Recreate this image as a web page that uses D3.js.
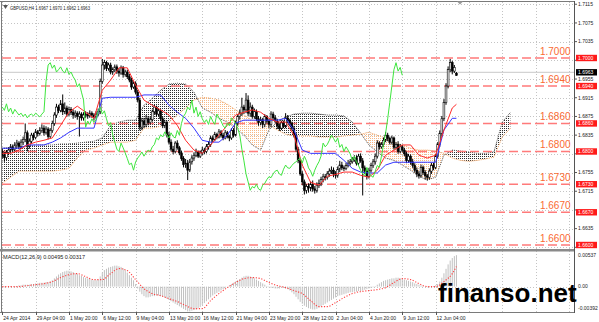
<!DOCTYPE html>
<html><head><meta charset="utf-8">
<script src="https://cdn.jsdelivr.net/npm/d3@7"></script>
<style>html,body{margin:0;padding:0;background:#fff;overflow:hidden}</style>
</head><body>
<svg id="c" width="599" height="322"></svg>
<script>
// ---------------- DATA ----------------
const symbolTitle = "GBPUSD,H4";
const lastOHLC = [1.6967, 1.6970, 1.6962, 1.6963];
const bidPrice = 1.6963;

const open = [1.6800,1.6792,1.6787,1.6798,1.6803,1.6810,1.6804,1.6814,1.6818,1.6811,
1.6820,1.6826,1.6840,1.6812,1.6822,1.6835,1.6830,1.6842,1.6838,1.6845,
1.6850,1.6840,1.6848,1.6832,1.6845,1.6860,1.6878,1.6895,1.6888,1.6902,
1.6885,1.6893,1.6880,1.6890,1.6884,1.6878,1.6882,1.6875,1.6880,1.6872,
1.6878,1.6880,1.6876,1.6882,1.6878,1.6874,1.6880,1.6885,1.6950,1.6985,
1.6990,1.6978,1.6985,1.6970,1.6975,1.6981,1.6972,1.6968,1.6979,1.6965,
1.6970,1.6960,1.6953,1.6938,1.6945,1.6927,1.6910,1.6852,1.6865,1.6858,
1.6870,1.6862,1.6868,1.6885,1.6895,1.6880,1.6887,1.6870,1.6855,1.6862,
1.6835,1.6820,1.6805,1.6800,1.6818,1.6808,1.6797,1.6785,1.6772,1.6775,
1.6760,1.6778,1.6786,1.6792,1.6799,1.6790,1.6797,1.6803,1.6800,1.6810,
1.6815,1.6829,1.6825,1.6836,1.6831,1.6842,1.6835,1.6829,1.6840,1.6832,
1.6829,1.6845,1.6835,1.6860,1.6875,1.6882,1.6895,1.6889,1.6910,1.6882,
1.6895,1.6875,1.6885,1.6870,1.6862,1.6868,1.6858,1.6875,1.6865,1.6858,
1.6880,1.6872,1.6865,1.6855,1.6850,1.6861,1.6855,1.6872,1.6867,1.6860,
1.6850,1.6835,1.6805,1.6780,1.6752,1.6735,1.6717,1.6725,1.6722,1.6730,
1.6720,1.6717,1.6728,1.6732,1.6740,1.6746,1.6744,1.6752,1.6758,1.6760,
1.6752,1.6749,1.6762,1.6771,1.6765,1.6764,1.6770,1.6775,1.6778,1.6782,
1.6786,1.6775,1.6790,1.6780,1.6765,1.6758,1.6747,1.6760,1.6770,1.6778,
1.6790,1.6818,1.6810,1.6815,1.6824,1.6835,1.6828,1.6820,1.6829,1.6809,
1.6815,1.6800,1.6810,1.6803,1.6795,1.6781,1.6790,1.6778,1.6770,1.6760,
1.6752,1.6748,1.6766,1.6755,1.6748,1.6745,1.6758,1.6770,1.6766,1.6790,
1.6815,1.6839,1.6870,1.6905,1.6940,1.6975,1.6990,1.6972,1.6967];

const close = [1.6792,1.6787,1.6798,1.6803,1.6810,1.6804,1.6814,1.6818,1.6811,1.6820,
1.6826,1.6840,1.6812,1.6822,1.6835,1.6830,1.6842,1.6838,1.6845,1.6850,
1.6840,1.6848,1.6832,1.6845,1.6860,1.6878,1.6895,1.6888,1.6902,1.6885,
1.6893,1.6880,1.6890,1.6884,1.6878,1.6882,1.6875,1.6880,1.6872,1.6878,
1.6880,1.6876,1.6882,1.6878,1.6874,1.6880,1.6885,1.6950,1.6985,1.6990,
1.6978,1.6985,1.6970,1.6975,1.6981,1.6972,1.6968,1.6979,1.6965,1.6970,
1.6960,1.6953,1.6938,1.6945,1.6927,1.6910,1.6852,1.6865,1.6858,1.6870,
1.6862,1.6868,1.6885,1.6895,1.6880,1.6887,1.6870,1.6855,1.6862,1.6835,
1.6820,1.6805,1.6800,1.6818,1.6808,1.6797,1.6785,1.6772,1.6775,1.6760,
1.6778,1.6786,1.6792,1.6799,1.6790,1.6797,1.6803,1.6800,1.6810,1.6815,
1.6829,1.6825,1.6836,1.6831,1.6842,1.6835,1.6829,1.6840,1.6832,1.6829,
1.6845,1.6835,1.6860,1.6875,1.6882,1.6895,1.6889,1.6910,1.6882,1.6895,
1.6875,1.6885,1.6870,1.6862,1.6868,1.6858,1.6875,1.6865,1.6858,1.6880,
1.6872,1.6865,1.6855,1.6850,1.6861,1.6855,1.6872,1.6867,1.6860,1.6850,
1.6835,1.6805,1.6780,1.6752,1.6735,1.6717,1.6725,1.6722,1.6730,1.6720,
1.6717,1.6728,1.6732,1.6740,1.6746,1.6744,1.6752,1.6758,1.6760,1.6752,
1.6749,1.6762,1.6771,1.6765,1.6764,1.6770,1.6775,1.6778,1.6782,1.6786,
1.6775,1.6790,1.6780,1.6765,1.6758,1.6747,1.6760,1.6770,1.6778,1.6790,
1.6818,1.6810,1.6815,1.6824,1.6835,1.6828,1.6820,1.6829,1.6809,1.6815,
1.6800,1.6810,1.6803,1.6795,1.6781,1.6790,1.6778,1.6770,1.6760,1.6752,
1.6748,1.6766,1.6755,1.6748,1.6745,1.6758,1.6770,1.6766,1.6790,1.6815,
1.6839,1.6870,1.6905,1.6940,1.6975,1.6990,1.6972,1.6980,1.6963];

const high = [1.6806,1.6798,1.6803,1.6809,1.6816,1.6815,1.6820,1.6825,1.6822,1.6826,
1.6832,1.6860,1.6845,1.6828,1.6840,1.6840,1.6848,1.6846,1.6852,1.6858,
1.6856,1.6854,1.6852,1.6850,1.6866,1.6884,1.6902,1.6900,1.6910,1.6922,
1.6905,1.6898,1.6896,1.6895,1.6890,1.6888,1.6886,1.6886,1.6884,1.6884,
1.6886,1.6884,1.6888,1.6886,1.6882,1.6886,1.6892,1.6956,1.6998,1.6996,
1.6994,1.6990,1.6990,1.6980,1.6986,1.6986,1.6978,1.6984,1.6983,1.6975,
1.6975,1.6966,1.6958,1.6950,1.6950,1.6932,1.6915,1.6872,1.6872,1.6878,
1.6876,1.6874,1.6890,1.6900,1.6898,1.6892,1.6890,1.6875,1.6868,1.6866,
1.6842,1.6826,1.6812,1.6822,1.6824,1.6812,1.6802,1.6790,1.6784,1.6782,
1.6784,1.6792,1.6798,1.6806,1.6802,1.6802,1.6810,1.6808,1.6816,1.6822,
1.6834,1.6834,1.6842,1.6840,1.6848,1.6846,1.6840,1.6846,1.6844,1.6836,
1.6850,1.6850,1.6866,1.6880,1.6890,1.6915,1.6900,1.6925,1.6920,1.6905,
1.6900,1.6892,1.6890,1.6876,1.6874,1.6872,1.6880,1.6878,1.6870,1.6886,
1.6885,1.6878,1.6870,1.6860,1.6866,1.6866,1.6882,1.6878,1.6870,1.6864,
1.6855,1.6840,1.6810,1.6785,1.6758,1.6740,1.6730,1.6732,1.6736,1.6738,
1.6726,1.6734,1.6740,1.6746,1.6752,1.6752,1.6758,1.6764,1.6768,1.6766,
1.6758,1.6768,1.6780,1.6778,1.6770,1.6776,1.6782,1.6784,1.6788,1.6792,
1.6792,1.6795,1.6796,1.6786,1.6770,1.6764,1.6765,1.6776,1.6784,1.6796,
1.6824,1.6822,1.6820,1.6830,1.6842,1.6840,1.6832,1.6834,1.6832,1.6820,
1.6822,1.6816,1.6814,1.6808,1.6800,1.6795,1.6794,1.6784,1.6775,1.6766,
1.6758,1.6772,1.6770,1.6760,1.6752,1.6764,1.6776,1.6776,1.6795,1.6820,
1.6845,1.6876,1.6912,1.6946,1.6982,1.6998,1.6994,1.6985,1.6970];

const low = [1.6785,1.6778,1.6782,1.6792,1.6798,1.6798,1.6800,1.6808,1.6805,1.6806,
1.6814,1.6820,1.6800,1.6806,1.6816,1.6824,1.6826,1.6832,1.6834,1.6840,
1.6834,1.6836,1.6826,1.6828,1.6840,1.6855,1.6872,1.6882,1.6884,1.6878,
1.6880,1.6874,1.6876,1.6878,1.6870,1.6872,1.6868,1.6832,1.6866,1.6866,
1.6872,1.6870,1.6872,1.6872,1.6866,1.6870,1.6876,1.6880,1.6945,1.6975,
1.6972,1.6973,1.6965,1.6964,1.6970,1.6966,1.6960,1.6964,1.6958,1.6960,
1.6955,1.6948,1.6932,1.6934,1.6922,1.6905,1.6845,1.6846,1.6850,1.6852,
1.6856,1.6858,1.6864,1.6880,1.6875,1.6876,1.6865,1.6850,1.6850,1.6830,
1.6815,1.6800,1.6794,1.6796,1.6804,1.6792,1.6780,1.6766,1.6765,1.6739,
1.6756,1.6772,1.6780,1.6788,1.6786,1.6786,1.6792,1.6794,1.6796,1.6804,
1.6810,1.6820,1.6822,1.6826,1.6828,1.6830,1.6824,1.6826,1.6828,1.6822,
1.6825,1.6830,1.6832,1.6855,1.6868,1.6876,1.6880,1.6882,1.6876,1.6874,
1.6870,1.6870,1.6865,1.6855,1.6856,1.6850,1.6852,1.6860,1.6850,1.6852,
1.6866,1.6860,1.6848,1.6844,1.6846,1.6850,1.6850,1.6860,1.6854,1.6845,
1.6830,1.6800,1.6775,1.6748,1.6728,1.6708,1.6710,1.6712,1.6715,1.6714,
1.6710,1.6712,1.6722,1.6726,1.6734,1.6738,1.6740,1.6746,1.6752,1.6745,
1.6742,1.6744,1.6756,1.6760,1.6758,1.6760,1.6766,1.6770,1.6774,1.6778,
1.6770,1.6770,1.6776,1.6706,1.6752,1.6740,1.6742,1.6755,1.6765,1.6772,
1.6785,1.6804,1.6806,1.6810,1.6820,1.6822,1.6815,1.6815,1.6804,1.6804,
1.6795,1.6796,1.6798,1.6790,1.6775,1.6776,1.6772,1.6765,1.6755,1.6745,
1.6742,1.6744,1.6750,1.6740,1.6738,1.6740,1.6752,1.6760,1.6762,1.6785,
1.6810,1.6832,1.6865,1.6900,1.6935,1.6970,1.6965,1.6968,1.6962];

// Ichimoku lines sampled every 4 bars (+ last bar)
const lineBars = d3.range(0, 217, 4).concat([218]);
const tenkan = [1.6796,1.6796,1.6803,1.6814,1.6820,1.6824,1.6829,1.6856,1.6884,1.6897,
1.6884,1.6871,1.6931,1.6953,1.6979,1.6979,1.6942,1.6910,1.6899,1.6889,
1.6878,1.6856,1.6824,1.6803,1.6796,1.6814,1.6835,1.6856,1.6878,1.6884,
1.6889,1.6884,1.6871,1.6863,1.6863,1.6835,1.6771,1.6734,1.6728,1.6747,
1.6751,1.6756,1.6756,1.6749,1.6745,1.6760,1.6792,1.6803,1.6814,1.6814,
1.6792,1.6786,1.6792,1.6846,1.6893,1.6901];
const kijun = [1.6807,1.6807,1.6807,1.6814,1.6814,1.6814,1.6820,1.6829,1.6841,1.6850,
1.6850,1.6850,1.6914,1.6916,1.6916,1.6916,1.6916,1.6921,1.6921,1.6921,
1.6899,1.6884,1.6871,1.6850,1.6824,1.6820,1.6820,1.6835,1.6861,1.6867,
1.6867,1.6867,1.6867,1.6867,1.6871,1.6846,1.6803,1.6796,1.6796,1.6796,
1.6796,1.6781,1.6764,1.6756,1.6754,1.6754,1.6771,1.6777,1.6777,1.6777,
1.6777,1.6777,1.6777,1.6846,1.6871,1.6871];

// Cloud (Senkou spans, already shifted 26 bars forward) sampled every 4 bars
const cloudBars = d3.range(0, 245, 4);
const spanA = [1.6732,1.6745,1.6758,1.6758,1.6758,1.6758,1.6758,1.6760,1.6764,1.6786,
1.6803,1.6807,1.6814,1.6820,1.6820,1.6820,1.6824,1.6850,1.6850,1.6854,
1.6863,1.6878,1.6893,1.6910,1.6916,1.6914,1.6910,1.6901,1.6889,1.6878,
1.6867,1.6863,1.6856,1.6846,1.6837,1.6833,1.6833,1.6833,1.6831,1.6831,
1.6831,1.6833,1.6835,1.6837,1.6841,1.6835,1.6829,1.6820,1.6814,1.6807,
1.6803,1.6803,1.6801,1.6796,1.6786,1.6781,1.6779,1.6781,1.6784,1.6788,
1.6831,1.6850];
const spanB = [1.6807,1.6809,1.6809,1.6811,1.6814,1.6814,1.6814,1.6816,1.6816,1.6818,
1.6820,1.6822,1.6829,1.6856,1.6863,1.6867,1.6867,1.6899,1.6914,1.6931,
1.6944,1.6946,1.6944,1.6927,1.6893,1.6884,1.6871,1.6863,1.6850,1.6835,
1.6814,1.6803,1.6846,1.6863,1.6874,1.6880,1.6882,1.6882,1.6880,1.6878,
1.6878,1.6876,1.6863,1.6839,1.6814,1.6799,1.6786,1.6781,1.6771,1.6760,
1.6747,1.6739,1.6745,1.6792,1.6803,1.6801,1.6799,1.6796,1.6796,1.6799,
1.6863,1.6884];

// MACD(12,26,9): main (histogram) per bar, signal sampled at lineBars
const macdMain = [-0.0001,-0.0001,0,0,0.0001,0,0.0001,0.0001,0.0002,0.0002,0.0003,0.0003,0.0003,
0.0003,0.0004,0.0004,0.0005,0.0005,0.0006,0.0006,0.0006,0.0007,0.0007,0.0008,
0.0010,0.0013,0.0016,0.0019,0.0021,0.0023,0.0024,0.0025,0.0025,0.0024,
0.0023,0.0021,0.0020,0.0018,0.0017,0.0015,0.0014,0.0013,0.0012,0.0011,0.0010,0.0010,0.0011,
0.0016,0.0022,0.0026,0.0028,0.0030,0.0031,0.0032,0.0033,0.0033,0.0032,0.0031,
0.0029,0.0026,0.0022,0.0018,0.0014,0.0010,0.0004,-0.0003,
-0.0008,-0.0012,-0.0015,-0.0017,-0.0017,-0.0016,-0.0015,
-0.0015,-0.0014,-0.0014,-0.0015,-0.0016,-0.0017,-0.0019,-0.0021,
-0.0023,-0.0025,-0.0027,-0.0029,-0.0031,-0.0033,-0.0035,-0.0037,-0.0039,-0.0039,-0.0038,-0.0037,-0.0036,-0.0034,
-0.0032,-0.0029,-0.0026,-0.0023,-0.0020,-0.0017,-0.0014,-0.0012,-0.0010,-0.0008,
-0.0006,-0.0004,-0.0002,0.0000,0.0002,0.0004,
0.0006,0.0008,0.0010,0.0012,0.0014,0.0016,0.0017,0.0017,0.0016,0.0015,0.0013,0.0011,0.0009,0.0007,0.0005,0.0003,0.0001,
-0.0001,-0.0002,-0.0002,-0.0003,-0.0003,-0.0003,-0.0002,-0.0002,-0.0003,-0.0004,-0.0006,
-0.0009,-0.0012,-0.0016,-0.0020,-0.0024,-0.0027,-0.0030,-0.0032,-0.0034,-0.0035,-0.0036,-0.0036,-0.0035,-0.0033,
-0.0031,-0.0029,-0.0027,-0.0025,-0.0023,-0.0021,-0.0019,-0.0017,-0.0015,-0.0014,-0.0013,-0.0012,-0.0011,-0.0010,-0.0009,
-0.0009,-0.0008,-0.0008,-0.0007,-0.0007,-0.0006,-0.0005,-0.0004,-0.0003,-0.0002,-0.0001,0.0001,0.0003,
0.0005,0.0007,0.0009,0.0010,0.0011,0.0012,0.0013,0.0013,0.0014,0.0014,
0.0013,0.0012,0.0011,0.0010,0.0009,0.0008,0.0007,0.0005,0.0004,
0.0003,0.0002,0.0001,0.0000,-0.0001,-0.0001,0.0000,0.0001,0.0002,
0.0004,0.0008,0.0014,0.0021,0.0028,0.0035,0.0041,0.0045,0.0048,0.00495];
const macdSignal = [0,0,0,0.00016,0.00031,0.00047,0.00079,0.00142,0.00189,0.00205,
0.00158,0.0011,0.0011,0.00205,0.00284,0.00252,0.0011,-0.00032,-0.0011,-0.00142,
-0.00189,-0.00236,-0.00299,-0.00347,-0.00347,-0.0022,-0.0011,-0.00016,0.00063,0.00126,
0.00142,0.00126,0.00063,0.00016,-0.00016,-0.00063,-0.0011,-0.0022,-0.00315,-0.00315,
-0.00252,-0.00173,-0.0011,-0.00079,-0.00063,-0.00047,-0.00016,0.00063,0.00126,0.0011,
0.00047,0,0,0.00079,0.00205,0.00317];
const macdLabel = "MACD(12,26,9) 0.00495 0.00317";
const macdTicks = [0.00537, 0, -0.00392];
const macdTickText = ["0.00537", "0.00", "-0.00392"];

const levels = [1.7000, 1.6940, 1.6860, 1.6800, 1.6730, 1.6670, 1.6600];
const levelText = ["1.7000", "1.6940", "1.6860", "1.6800", "1.6730", "1.6670", "1.6600"];
const priceTicks = [1.7115,1.7075,1.7035,1.6995,1.6955,1.6915,1.6875,1.6835,1.6795,1.6755,1.6715,1.6675,1.6635,1.6595];
const timeBars = [0,16,32,48,64,80,96,112,128,144,160,176,192,208];
const timeText = ["24 Apr 2014","29 Apr 04:00","1 May 20:00","6 May 12:00","9 May 04:00","13 May 20:00","16 May 12:00","21 May 04:00","23 May 20:00","28 May 12:00","2 Jun 04:00","4 Jun 20:00","9 Jun 12:00","12 Jun 04:00"];
const watermark = "finanso.net";

// ---------------- LAYOUT ----------------
const L = 2, R = 574, mainTop = 2, mainBot = 249, macdTop = 252, macdBot = 312;
const FONT = "'Liberation Sans', Arial, sans-serif";
const svg = d3.select("#c");
const x = d3.scaleLinear().domain([0, 208]).range([2.3, 435.6]);
const y = d3.scaleLinear().domain([1.66, 1.70]).range([245, 58]);
const ym = d3.scaleLinear().domain([-0.00392, 0.00537]).range([311.5, 252.5]);

const defs = svg.append("defs");
defs.append("clipPath").attr("id", "clipMain").append("rect")
  .attr("x", L).attr("y", mainTop).attr("width", R - L).attr("height", mainBot - mainTop);
defs.append("clipPath").attr("id", "clipMacd").append("rect")
  .attr("x", L).attr("y", macdTop).attr("width", R - L).attr("height", macdBot - macdTop);
function dotPattern(id, color) {
  const p = defs.append("pattern").attr("id", id).attr("patternUnits", "userSpaceOnUse")
    .attr("width", 2).attr("height", 2);
  p.append("rect").attr("x", 0).attr("y", 0).attr("width", 1).attr("height", 1).attr("fill", color);
}
dotPattern("dotDark", "#2e2e2e");
dotPattern("dotOrange", "#f7b784");

svg.append("rect").attr("x", 0).attr("y", 0).attr("width", 599).attr("height", 322).attr("fill", "#fff");

// grid
const gridBars = d3.range(0, 17 * 16 + 1, 16);
const grid = svg.append("g").attr("stroke", "#c4c4c4").attr("stroke-width", 1).attr("stroke-dasharray", "1,2");
grid.selectAll("line.v").data(gridBars).join("line")
  .attr("x1", d => Math.round(x(d)) + 0.5).attr("x2", d => Math.round(x(d)) + 0.5)
  .attr("y1", mainTop).attr("y2", macdBot);
grid.selectAll("line.h").data(priceTicks).join("line").attr("class", "h")
  .attr("x1", L).attr("x2", R)
  .attr("y1", d => Math.round(y(d)) + 0.5).attr("y2", d => Math.round(y(d)) + 0.5);
grid.append("line").attr("x1", L).attr("x2", R)
  .attr("y1", Math.round(ym(0)) + 0.5).attr("y2", Math.round(ym(0)) + 0.5);

// ---- main panel ----
const main = svg.append("g").attr("clip-path", "url(#clipMain)");

// cloud
const cloud = cloudBars.map((b, i) => ({ b, a: spanA[i], s: spanB[i] }));
const areaAB = d3.area().x(d => x(d.b)).y0(d => y(d.a)).y1(d => y(d.s));
defs.append("clipPath").attr("id", "aboveA").append("path")
  .attr("d", d3.area().x(d => x(d.b)).y0(mainTop - 10).y1(d => y(d.a))(cloud));
defs.append("clipPath").attr("id", "belowA").append("path")
  .attr("d", d3.area().x(d => x(d.b)).y0(d => y(d.a)).y1(mainBot + 10)(cloud));
main.append("g").attr("clip-path", "url(#aboveA)").append("path")
  .attr("d", areaAB(cloud)).attr("fill", "url(#dotDark)");
main.append("g").attr("clip-path", "url(#belowA)").append("path")
  .attr("d", areaAB(cloud)).attr("fill", "url(#dotOrange)");
main.append("path").attr("d", d3.line().x(d => x(d.b)).y(d => y(d.a))(cloud))
  .attr("fill", "none").attr("stroke", "#f4a460").attr("stroke-width", 1).attr("stroke-dasharray", "1,1");
main.append("path").attr("d", d3.line().x(d => x(d.b)).y(d => y(d.s))(cloud))
  .attr("fill", "none").attr("stroke", "#555").attr("stroke-width", 1).attr("stroke-dasharray", "1,1");

// bid line (label nudged up like the terminal does)
const bidY = y(bidPrice) - 3;
main.append("line").attr("x1", L).attr("x2", R)
  .attr("y1", bidY).attr("y2", bidY).attr("stroke", "#c8c8c8").attr("stroke-width", 1);

// level lines
main.selectAll("line.lvl").data(levels).join("line").attr("class", "lvl")
  .attr("x1", L).attr("x2", R).attr("y1", d => y(d)).attr("y2", d => y(d))
  .attr("stroke", "#ff7a7a").attr("stroke-width", 1.6).attr("stroke-dasharray", "9,4");

// candles
const bars = d3.range(close.length);
const cg = main.append("g");
cg.selectAll("line.w").data(bars).join("line").attr("class", "w")
  .attr("x1", i => x(i)).attr("x2", i => x(i))
  .attr("y1", i => y(high[i])).attr("y2", i => y(low[i]))
  .attr("stroke", "#000").attr("stroke-width", 1);
cg.selectAll("rect.b").data(bars).join("rect").attr("class", "b")
  .attr("x", i => x(i) - 0.9).attr("width", 1.8)
  .attr("y", i => y(Math.max(open[i], close[i])))
  .attr("height", i => Math.max(0.8, Math.abs(y(open[i]) - y(close[i]))))
  .attr("fill", i => close[i] >= open[i] ? "#fff" : "#000")
  .attr("stroke", "#000").attr("stroke-width", 0.6);

// Ichimoku lines
const lineGen = d3.line().x(d => x(d[0])).y(d => y(d[1]));
main.append("path").attr("d", lineGen(lineBars.map((b, i) => [b, kijun[i]])))
  .attr("fill", "none").attr("stroke", "#3535ff").attr("stroke-width", 1);
main.append("path").attr("d", lineGen(lineBars.map((b, i) => [b, tenkan[i]])))
  .attr("fill", "none").attr("stroke", "#ff2a2a").attr("stroke-width", 1);
main.append("path").attr("d", lineGen(bars.filter(i => i >= 26).map(i => [i - 26, close[i]])))
  .attr("fill", "none").attr("stroke", "#3ee63e").attr("stroke-width", 1);

// level texts
svg.selectAll("text.lvl").data(levels).join("text").attr("class", "lvl")
  .attr("x", 570.5).attr("y", d => y(d) - 3.2).attr("text-anchor", "end")
  .attr("font-family", FONT).attr("font-size", 11).attr("fill", "#fa6a32")
  .attr("textLength", 30.5).attr("lengthAdjust", "spacingAndGlyphs")
  .text((d, i) => levelText[i]);

// ---- MACD panel ----
const mg = svg.append("g").attr("clip-path", "url(#clipMacd)");
mg.selectAll("line.h").data(bars).join("line")
  .attr("x1", i => x(i)).attr("x2", i => x(i))
  .attr("y1", ym(0)).attr("y2", i => ym(macdMain[i]))
  .attr("stroke", "#c0c0c0").attr("stroke-width", 1);
mg.append("path").attr("d", d3.line().x(d => x(d[0])).y(d => ym(d[1])).curve(d3.curveMonotoneX)(lineBars.map((b, i) => [b, macdSignal[i]])))
  .attr("fill", "none").attr("stroke", "#ff4040").attr("stroke-width", 1.1).attr("stroke-dasharray", "1.2,1.6");

// ---- borders ----
const bc = "#7a7a7a";
svg.append("line").attr("x1", 0).attr("x2", R).attr("y1", 1.5).attr("y2", 1.5).attr("stroke", bc);
svg.append("line").attr("x1", 1.5).attr("x2", 1.5).attr("y1", 1).attr("y2", macdBot).attr("stroke", bc);
svg.append("rect").attr("x", 0).attr("y", 249).attr("width", R).attr("height", 2.5).attr("fill", "#8a8a8a");
svg.append("line").attr("x1", 0).attr("x2", R).attr("y1", macdBot + 0.5).attr("y2", macdBot + 0.5).attr("stroke", bc);
svg.append("line").attr("x1", R + 0.5).attr("x2", R + 0.5).attr("y1", 1).attr("y2", macdBot + 1).attr("stroke", "#555");

// shift marker
svg.append("path").attr("d", d3.line()([[457, 1.5], [463, 1.5], [460, 4.5]])).attr("fill", "#9a9a9a");

// price axis (labels hidden under a level box are not drawn)
const tickFont = 5;
const visibleTicks = priceTicks.filter(t => levels.every(l => Math.abs(l - t) > 0.0006));
svg.selectAll("line.pt").data(priceTicks).join("line").attr("class", "pt")
  .attr("x1", R).attr("x2", R + 3).attr("y1", d => y(d)).attr("y2", d => y(d)).attr("stroke", "#555");
svg.selectAll("text.pt").data(visibleTicks).join("text").attr("class", "pt")
  .attr("x", 578).attr("y", d => y(d) + 1.8).attr("font-family", FONT).attr("font-size", tickFont)
  .attr("fill", "#222").text(d => d.toFixed(4));
const lb = svg.selectAll("g.lb").data(levels).join("g").attr("class", "lb");
lb.append("rect").attr("x", 576).attr("y", d => y(d) - 3.2).attr("width", 21).attr("height", 6.4).attr("fill", "#ff1a1a");
lb.append("text").attr("x", 578).attr("y", d => y(d) + 1.8).attr("font-family", FONT).attr("font-size", tickFont)
  .attr("fill", "#fff").text((d, i) => levelText[i]);
svg.append("rect").attr("x", 576).attr("y", bidY - 3.2).attr("width", 21).attr("height", 6.4).attr("fill", "#000");
svg.append("text").attr("x", 578).attr("y", bidY + 1.8).attr("font-family", FONT).attr("font-size", tickFont)
  .attr("fill", "#fff").text(bidPrice.toFixed(4));

// macd axis
svg.selectAll("text.mt").data(macdTicks).join("text").attr("class", "mt")
  .attr("x", 578).attr("y", (d, i) => i === 0 ? ym(d) + 4.5 : (i === 2 ? ym(d) - 2 : ym(d) + 1.8))
  .attr("font-family", FONT).attr("font-size", tickFont).attr("fill", "#222")
  .text((d, i) => macdTickText[i]);

// time axis
svg.selectAll("line.tt").data(timeBars).join("line").attr("class", "tt")
  .attr("x1", d => Math.round(x(d)) + 0.5).attr("x2", d => Math.round(x(d)) + 0.5)
  .attr("y1", macdBot).attr("y2", macdBot + 3).attr("stroke", "#555");
svg.selectAll("text.tt").data(timeBars).join("text").attr("class", "tt")
  .attr("x", d => x(d) + 1).attr("y", 319.5).attr("font-family", FONT).attr("font-size", tickFont)
  .attr("fill", "#222").text((d, i) => timeText[i]);

// titles
svg.append("path").attr("d", d3.line()([[3, 5], [8, 5], [5.5, 9]])).attr("fill", "#555");
svg.append("text").attr("x", 10).attr("y", 9.5).attr("font-family", FONT).attr("font-size", tickFont)
  .attr("fill", "#222").attr("textLength", 80).attr("lengthAdjust", "spacingAndGlyphs")
  .text(symbolTitle + " " + lastOHLC.map(v => v.toFixed(4)).join(" "));
svg.append("text").attr("x", 3).attr("y", 259).attr("font-family", FONT).attr("font-size", tickFont)
  .attr("fill", "#222").attr("textLength", 82).attr("lengthAdjust", "spacingAndGlyphs").text(macdLabel);

// watermark
svg.append("text").attr("x", 438).attr("y", 302).attr("font-family", FONT).attr("font-weight", "bold")
  .attr("font-size", 26).attr("fill", "#000").text(watermark);
</script>
</body></html>
